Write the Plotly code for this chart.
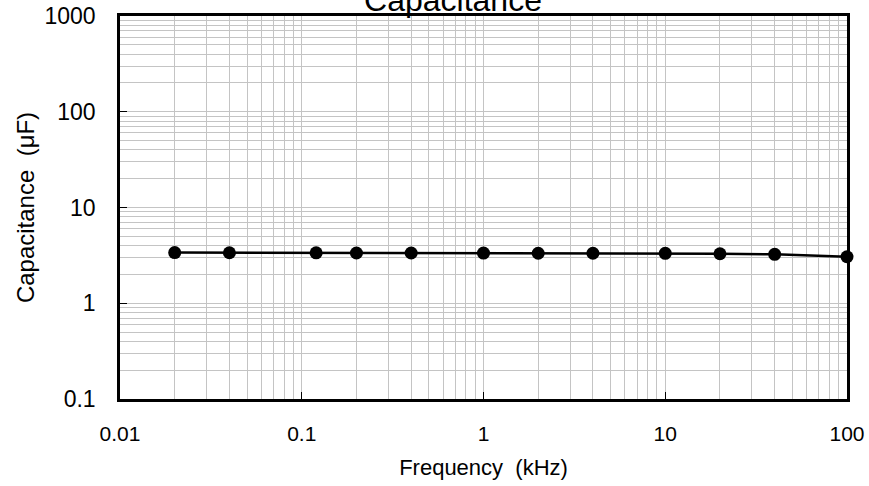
import plotly.graph_objects as go

frequency_khz = [0.02, 0.04, 0.12, 0.2, 0.4, 1, 2, 4, 10, 20, 40, 100]
capacitance_uf = [3.38, 3.37, 3.36, 3.35, 3.35, 3.34, 3.33, 3.33, 3.32, 3.29, 3.24, 3.06]

x_tick_vals = [0.01, 0.1, 1, 10, 100]
x_tick_text = ["0.01", "0.1", "1", "10", "100"]
y_tick_vals = [0.1, 1, 10, 100, 1000]
y_tick_text = ["0.1", "1", "10", "100", "1000"]

FONT = "Liberation Sans, Arial, sans-serif"
GRID = "#c4c4c4"

fig = go.Figure()
fig.add_trace(go.Scatter(
    x=frequency_khz, y=capacitance_uf, mode="lines+markers",
    line=dict(color="black", width=2.5),
    marker=dict(color="black", size=13),
    cliponaxis=False, showlegend=False,
))

axis_common = dict(
    type="log", showline=True, linecolor="black", linewidth=2.5, mirror=True,
    showgrid=True, gridcolor=GRID, gridwidth=1,
    ticks="inside", ticklen=7, tickcolor="black", tickwidth=1,
    minor=dict(dtick="D1", showgrid=True, gridcolor=GRID, gridwidth=1, ticks=""),
    zeroline=False, automargin=False,
)

fig.update_xaxes(
    range=[-2, 2], tickvals=x_tick_vals, ticktext=x_tick_text,
    tickfont=dict(family=FONT, size=21, color="black"),
    ticklabelstandoff=14,
    title=dict(text="Frequency  (kHz)", font=dict(family=FONT, size=22, color="black"), standoff=16),
    **axis_common,
)
fig.update_yaxes(
    range=[-1, 3], tickvals=y_tick_vals, ticktext=y_tick_text,
    tickfont=dict(family=FONT, size=23, color="black"),
    ticklabelstandoff=17,
    title=dict(text="Capacitance  (μF)", font=dict(family=FONT, size=24, color="black"), standoff=4),
    **axis_common,
)

fig.update_layout(
    width=869, height=486,
    margin=dict(l=120, r=22, t=16, b=87),
    paper_bgcolor="white", plot_bgcolor="white",
    font=dict(family=FONT, color="black"),
    title=dict(text="Capacitance", font=dict(family=FONT, size=32, color="black"),
               x=453/869, xanchor="center", xref="container",
               y=1 - 11/486, yanchor="bottom", yref="container"),
)

fig.write_html("out.html", config={"displayModeBar": False},
               post_script="document.body.style.margin='0';")
